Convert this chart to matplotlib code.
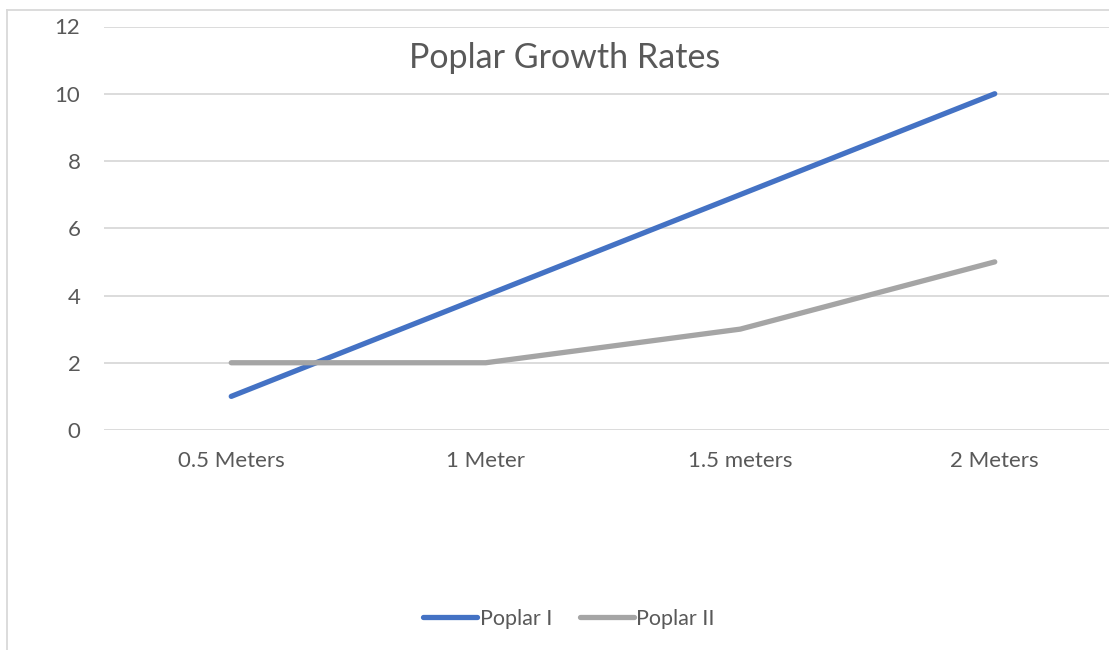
import matplotlib.pyplot as plt
from matplotlib.lines import Line2D

plt.rcParams['font.family'] = ['Lato', 'DejaVu Sans']

categories = ['0.5 Meters', '1 Meter', '1.5 meters', '2 Meters']
poplar_1 = [1, 4, 7, 10]
poplar_2 = [2, 2, 3, 5]

W, H = 1109, 650
fig = plt.figure(figsize=(W / 100, H / 100), dpi=100)

# axes placed in pixel terms (right side cut off like the screenshot)
left, right, top, bottom = 104, 1122, 26.5, 430
ax = fig.add_axes([left / W, 1 - bottom / H, (right - left) / W, (bottom - top) / H])

x = range(len(categories))
ax.plot(x, poplar_1, color='#4472C4', lw=3.8, solid_capstyle='round', label='Poplar I', zorder=3)
ax.plot(x, poplar_2, color='#A5A5A5', lw=3.8, solid_capstyle='round', label='Poplar II', zorder=3)

ax.set_xlim(-0.5, len(categories) - 0.5)
ax.set_ylim(0, 12)
ax.set_yticks(range(0, 13, 2))
ax.set_xticks(list(x))
ax.set_xticklabels(categories)
ax.tick_params(axis='both', length=0, labelsize=16, labelcolor='#595959')
ax.tick_params(axis='y', pad=17)
ax.tick_params(axis='x', pad=15)
ax.grid(axis='y', color='#D9D9D9', lw=1.3)
ax.set_axisbelow(True)
for s in ax.spines.values():
    s.set_visible(False)

fig.text(565 / W, 1 - 58 / H, 'Poplar Growth Rates', ha='center', va='center',
         fontsize=24.5, color='#595959')

fig.legend(loc='center', bbox_to_anchor=(569 / W, 1 - 619 / H), ncol=2, frameon=False,
           fontsize=15.5, labelcolor='#595959', handlelength=2.5, handletextpad=0.12,
           columnspacing=1.3)

# chart-area border (only top and left visible in the crop)
fig.add_artist(Line2D([7 / W, 7 / W], [0, 1 - 10 / H], color='#D9D9D9', lw=1.3))
fig.add_artist(Line2D([7 / W, 1], [1 - 10 / H, 1 - 10 / H], color='#D9D9D9', lw=1.3))

fig.savefig('out.png', dpi=100)
